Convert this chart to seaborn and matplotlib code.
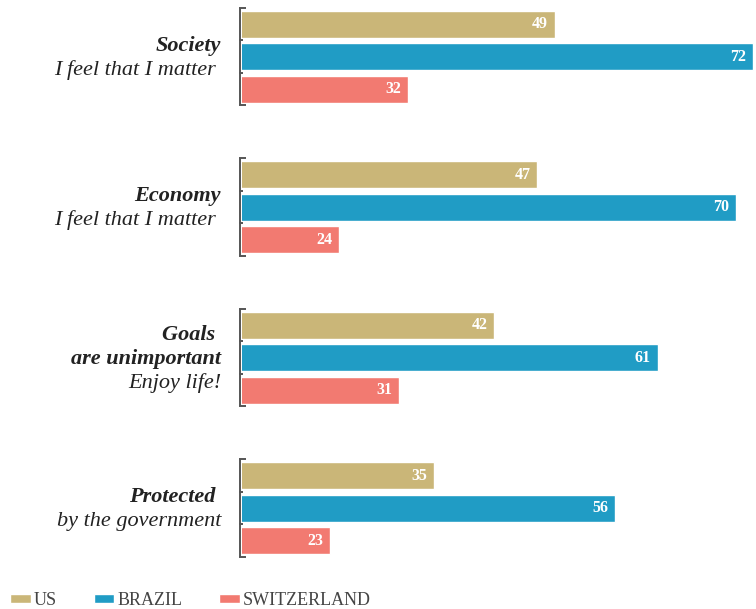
import pandas as pd
import matplotlib.pyplot as plt
import matplotlib.transforms as mtransforms
import seaborn as sns

# chart values
categories = ["Society", "Economy", "Goals", "Protected"]
countries = ["US", "BRAZIL", "SWITZERLAND"]
us_values = [49, 47, 42, 35]
brazil_values = [72, 70, 61, 56]
switzerland_values = [32, 24, 31, 23]

# left hand labels: bold italic lines first, then plain italic lines
bold_lines = [["Society"], ["Economy"], ["Goals ", "are unimportant"], ["Protected "]]
italic_lines = [["I feel that I matter "], ["I feel that I matter "], ["Enjoy life!"], ["by the government"]]

colors = ["#CAB678", "#209CC5", "#F27A71"]

df = pd.DataFrame({
    "category": categories * 3,
    "country": [c for c in countries for _ in categories],
    "value": us_values + brazil_values + switzerland_values,
})

sns.set_style("white")
plt.rcParams["font.family"] = ["Liberation Serif", "DejaVu Serif"]

fig = plt.figure(figsize=(7.56, 6.09), dpi=100)
ax = fig.add_axes([242 / 756, 49 / 609, 514 / 756, 560 / 609])

group_width = 0.648
sns.barplot(data=df, x="value", y="category", hue="country", order=categories,
            hue_order=countries, palette=colors, orient="h", width=group_width,
            gap=0.18, saturation=1, ax=ax)

handles, labels = ax.get_legend_handles_labels()
ax.get_legend().remove()

ax.set_xlim(12.75, 72.35)
ax.set_ylim(3.344, -0.377)
ax.set_xlabel("")
ax.set_ylabel("")
ax.set_xticks([])
ax.set_yticks([])
sns.despine(ax=ax, left=True, bottom=True)

# value labels inside the bar ends
for container in ax.containers:
    for bar in container:
        w = bar.get_width()
        ax.annotate(f"{w:.0f}", xy=(w, bar.get_y() + bar.get_height() / 2),
                    xytext=(-7 * 0.72, 0), textcoords="offset points",
                    ha="right", va="center", color="white",
                    fontsize=11.5, fontweight="bold")

trans = mtransforms.blended_transform_factory(ax.transAxes, ax.transData)

# brackets on the left of every group
px = 1 / 514
slot = group_width / len(countries)
line_kw = dict(transform=trans, color="#555555", lw=1.4, clip_on=False,
               solid_capstyle="butt", zorder=5)
for i in range(len(categories)):
    top = i - group_width / 2
    bottom = i + group_width / 2
    ax.plot([-2 * px, -2 * px], [top, bottom], **line_kw)
    ax.plot([-2.7 * px, 4 * px], [top, top], **line_kw)
    ax.plot([-2.7 * px, 4 * px], [bottom, bottom], **line_kw)
    for k in (1, 2):
        ax.plot([-2.7 * px, 0.5 * px], [top + k * slot] * 2, **line_kw)

# category text, one annotation per line
for i in range(len(categories)):
    lines = bold_lines[i] + italic_lines[i]
    n = len(lines)
    for k, line in enumerate(lines):
        dy = 6 + (k - (n - 1) / 2) * 24
        ax.annotate(line, xy=(0, i), xycoords=trans,
                    xytext=(-21 * 0.72, -dy * 0.72), textcoords="offset points",
                    ha="right", va="baseline", fontsize=16, fontstyle="italic",
                    fontweight="bold" if k < len(bold_lines[i]) else "normal",
                    color="#222222")

fig.legend(handles, labels, loc="lower left", bbox_to_anchor=(10 / 756, 0.0),
           ncol=3, frameon=False, fontsize=13, handlelength=1.15,
           handleheight=0.4, handletextpad=0.15, columnspacing=2.05,
           borderpad=0, borderaxespad=0, labelcolor="#444444")

plt.savefig("out.png", dpi=100)
